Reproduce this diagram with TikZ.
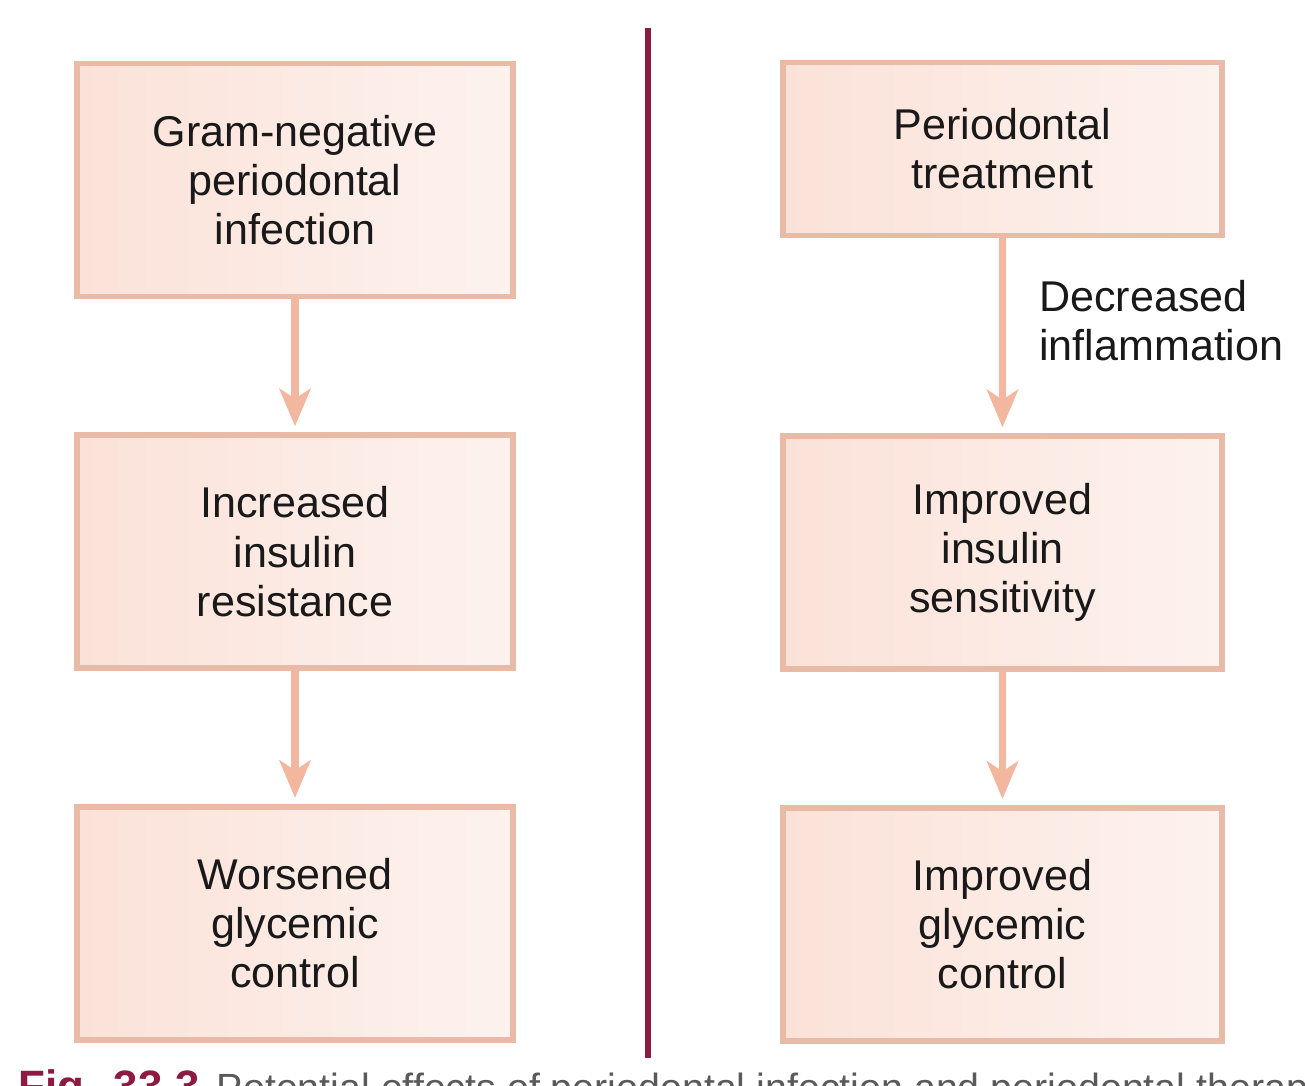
\documentclass[tikz,border=0pt]{standalone}
\usepackage{fontspec}
\setmainfont{Liberation Sans}
\usepackage{xcolor}
\usepackage{tikz}
\usetikzlibrary{arrows.meta, positioning}

\definecolor{boxfill}{HTML}{FBE2D8}
\definecolor{boxfillr}{HTML}{FDF2EF}
\definecolor{boxedge}{HTML}{E9BBA7}
\definecolor{arrowpink}{HTML}{F3B7A0}
\definecolor{divider}{HTML}{8E1A42}
\definecolor{captiongray}{HTML}{5A5A5A}

\begin{document}
\begin{tikzpicture}[
    box/.style={rectangle, draw=boxedge, line width=3.2pt, left color=boxfill, right color=boxfillr, minimum width=8.72cm, minimum height=4.66cm, align=center, text=black!90, font=\fontsize{24.5}{27.9}\selectfont},
    arrow/.style={-{Stealth[length=0.75cm, width=0.62cm, inset=0.2cm]}, line width=4pt, draw=arrowpink, shorten >=0.12cm},
    note/.style={align=left, text=black!90, font=\fontsize{24.5}{27.9}\selectfont}
]
\clip (0,0) rectangle (26.1,-21.72);
\fill[white] (0,0) rectangle (26.1,-21.72);

% left column: infection
\node[box] (infection) at (5.9,-3.6) {Gram-negative\\periodontal\\infection};
\node[box, below=2.66cm of infection] (resistance) {Increased\\insulin\\resistance};
\node[box, below=2.66cm of resistance] (worsened) {Worsened\\glycemic\\control};

% right column: treatment
\node[box, minimum width=8.78cm, minimum height=3.46cm] (treatment) at (20.05,-2.98) {Periodontal\\treatment};
\node[box, minimum width=8.78cm, below=3.9cm of treatment] (sensitivity) {Improved\\insulin\\sensitivity};
\node[box, minimum width=8.78cm, below=2.66cm of sensitivity] (improved) {Improved\\glycemic\\control};

\draw[arrow] (infection) -- (resistance);
\draw[arrow] (resistance) -- (worsened);
\draw[arrow] (treatment) -- node[note, anchor=west, pos=0.42, xshift=0.55cm] {Decreased\\inflammation} (sensitivity);
\draw[arrow] (sensitivity) -- (improved);

% divider
\coordinate (divtop) at (12.96,-0.56);
\coordinate (divbot) at (12.96,-21.16);
\draw[divider, line width=3.4pt] (divtop) -- (divbot);

% caption, cut off by the page edge
\node[anchor=base west, inner sep=0pt, font=\fontsize{22.4}{26}\selectfont] (caption) at (0.36,-22.02) {\textcolor{divider}{\fontsize{25}{26}\selectfont\bfseries Fig.\hspace{0.35cm}33.3}\hspace{0.35cm}\textcolor{captiongray}{Potential effects of periodontal infection and periodontal therapy}};

\end{tikzpicture}
\end{document}
